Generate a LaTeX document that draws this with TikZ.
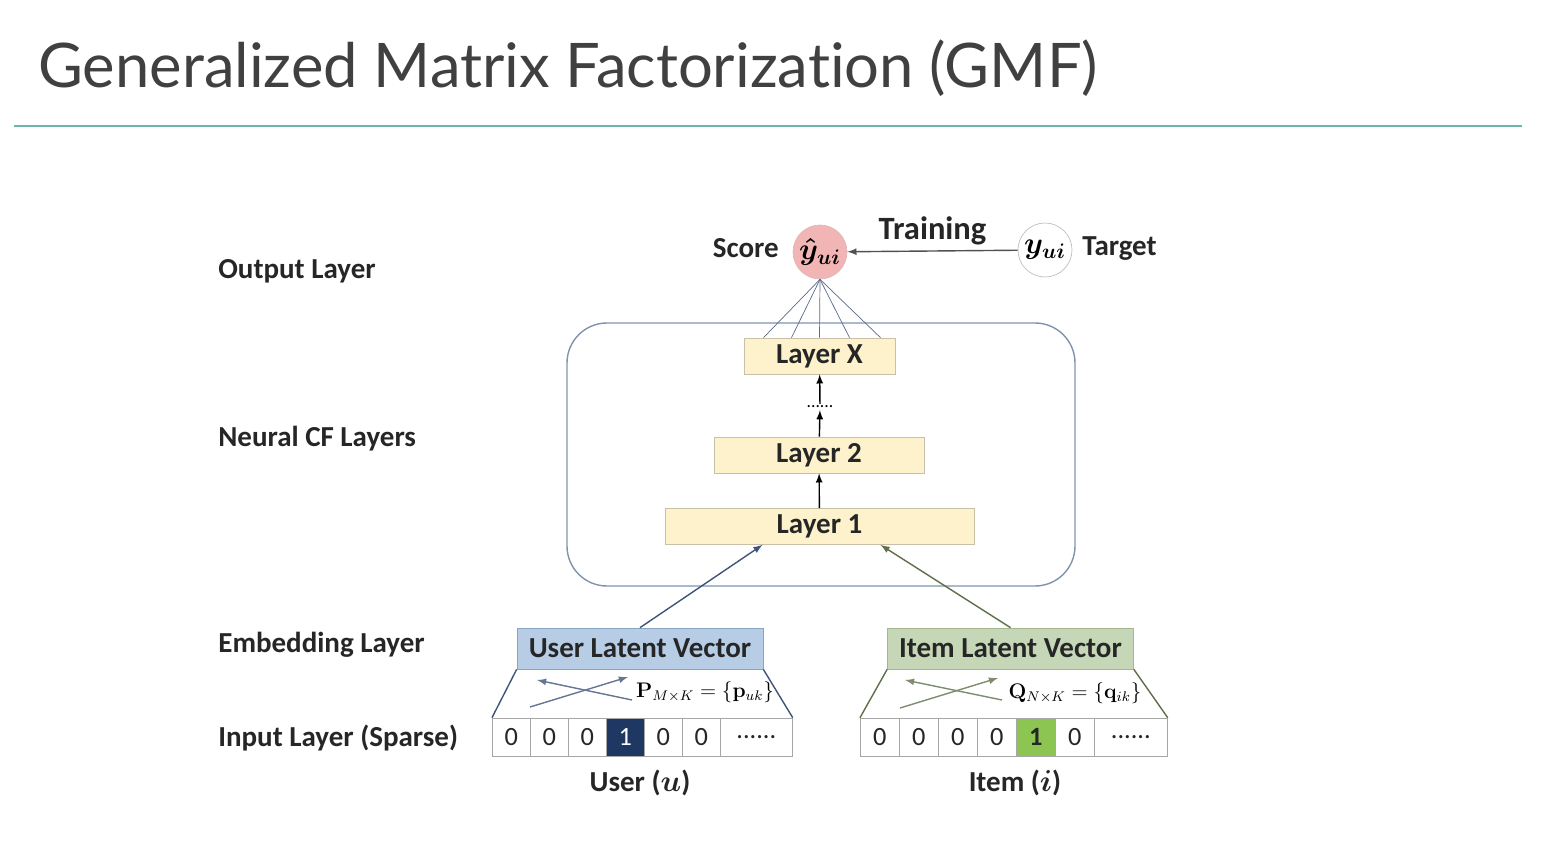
\documentclass[tikz,border=0pt]{standalone}
\usepackage{amsmath,bm}
\usepackage[no-math]{fontspec}
\setmainfont{Carlito}
\newfontfamily\titlefont[Ligatures=NoCommon]{Lato}
\usetikzlibrary{arrows}

\definecolor{txtcol}{HTML}{262626}
\definecolor{titlecol}{HTML}{404040}
\definecolor{rulecol}{HTML}{6AB5AC}
\definecolor{scorefill}{HTML}{F2B5B5}
\definecolor{layerfill}{HTML}{FDF2CC}
\definecolor{layerdraw}{HTML}{C8C0A8}
\definecolor{boxcol}{HTML}{7F93AD}
\definecolor{fancol}{HTML}{5A6A8A}
\definecolor{usercol}{HTML}{3F5478}
\definecolor{userfill}{HTML}{B7CDE6}
\definecolor{userdraw}{HTML}{8AA4C4}
\definecolor{itemcol}{HTML}{5D7048}
\definecolor{itemfill}{HTML}{C5D7B6}
\definecolor{itemdraw}{HTML}{A2B890}
\definecolor{onecol}{HTML}{1F3763}
\definecolor{greencol}{HTML}{8DC553}

\begin{document}
\begin{tikzpicture}[x=0.02cm,y=-0.02cm,
    lbl/.style={font=\fontsize{16.5}{19}\selectfont\bfseries,text=txtcol,inner sep=0pt},
    layerbox/.style={draw=layerdraw,fill=layerfill,minimum height=0.72cm,inner sep=0pt,
      font=\fontsize{16.5}{19}\selectfont\bfseries,text=txtcol},
    latent/.style={minimum width=4.92cm,minimum height=0.82cm,inner sep=0pt,
      font=\fontsize{16.5}{19}\selectfont\bfseries,text=txtcol},
    cell/.style={draw=gray!70,minimum height=0.76cm,inner sep=0pt,anchor=west,
      font=\fontsize{15}{18}\selectfont,text=txtcol},
    ball/.style={circle,minimum size=1.08cm,inner sep=0pt,font=\LARGE}]
  \useasboundingbox (0,0) rectangle (1542,868);

  % title
  \node[anchor=base west,inner sep=0pt,text=titlecol,font=\titlefont\fontsize{35}{40}\selectfont]
    (title) at (38,88) {Generalized Matrix Factorization (GMF)};
  \draw[rulecol,line width=1.2pt] (14,126) -- (1522,126);

  % layer names
  \node[lbl,anchor=west] (outl) at (218,271) {Output Layer};
  \node[lbl,anchor=west] (ncfl) at (218,439) {Neural CF Layers};
  \node[lbl,anchor=west] (embl) at (218,645) {Embedding Layer};
  \node[lbl,anchor=west] (inpl) at (218,738) {Input Layer (Sparse)};

  % output
  \node[ball,draw=gray!60!red!40,fill=scorefill] (score) at (820,252) {$\bm{\hat{y}}_{\bm{ui}}$};
  \node[ball,draw=gray!50,fill=white] (target) at (1045,250) {$\bm{y}_{\bm{ui}}$};
  \node[lbl,anchor=east] (scorel) at (779,248) {Score};
  \node[lbl,anchor=west] (targetl) at (1082,249) {Target};
  \draw[-latex,thick,txtcol!80] (target) -- node[above=3pt,lbl,font=\fontsize{18.5}{22}\selectfont\bfseries]{Training} (score);

  % neural CF layers
  \draw[boxcol,thick,rounded corners=0.8cm] (567,323) rectangle (1075,586);
  \node[layerbox,minimum width=3.02cm] (layerx) at (819.5,356) {Layer X};
  \node[layerbox,minimum width=4.2cm] (layer2) at (819,455) {Layer 2};
  \node[layerbox,minimum width=6.18cm] (layer1) at (819.5,526.5) {Layer 1};
  \node[inner sep=1pt,font=\fontsize{10}{10}\selectfont] (vdots) at (820,407) {......};
  \draw[-latex,thick] (layer1) -- (layer2);
  \draw[-latex,thick] (layer2) -- (vdots);
  \draw[-latex,thick] (vdots) -- (layerx);
  \foreach \dx in {-56,-28,0,30,61}
    \draw[fancol] (score.south) -- ([xshift=\dx*0.02cm]layerx.north);

  % embedding
  \node[latent,draw=userdraw,fill=userfill] (ulv) at (640,648.5) {User Latent Vector};
  \node[latent,draw=itemdraw,fill=itemfill] (ilv) at (1010.5,648.5) {Item Latent Vector};
  \draw[-latex,thick,usercol] (ulv.north) -- ([xshift=-1.14cm]layer1.south);
  \draw[-latex,thick,itemcol] (ilv.north) -- ([xshift=1.22cm]layer1.south);

  % user input
  \foreach \i/\v in {0/0,1/0,2/0,4/0,5/0}
    \node[cell,minimum width=0.76cm] (u\i) at (492+38*\i,737) {\v};
  \node[cell,minimum width=0.76cm,fill=onecol,text=white] (u3) at (606,737) {1};
  \node[cell,minimum width=1.44cm] (u6) at (720,737) {......};
  \draw[usercol,thick] (ulv.south west) -- (u0.north west);
  \draw[usercol,thick] (ulv.south east) -- (u6.north east);
  \draw[-latex,thick,usercol!80] (530,707) -- (628,677);
  \draw[-latex,thick,usercol!80] (632,700) -- (537,680);
  \node[inner sep=0pt] (pmat) at (705,692) {\large$\mathbf{P}_{M\times K}=\{\mathbf{p}_{uk}\}$};
  \node[lbl] (userl) at (640,783) {User ($\bm{u}$)};

  % item input
  \foreach \i/\v in {0/0,1/0,2/0,3/0,5/0}
    \node[cell,minimum width=0.78cm] (i\i) at (860+39*\i,737) {\v};
  \node[cell,minimum width=0.78cm,fill=greencol] (i4) at (1016,737) {\bfseries 1};
  \node[cell,minimum width=1.46cm] (i6) at (1094,737) {......};
  \draw[itemcol,thick] (ilv.south west) -- (i0.north west);
  \draw[itemcol,thick] (ilv.south east) -- (i6.north east);
  \draw[-latex,thick,itemcol!80] (900,708) -- (998,678);
  \draw[-latex,thick,itemcol!80] (1002,700) -- (905,680);
  \node[inner sep=0pt] (qmat) at (1075,693) {\large$\mathbf{Q}_{N\times K}=\{\mathbf{q}_{ik}\}$};
  \node[lbl] (iteml) at (1015,783) {Item ($\bm{i}$)};
\end{tikzpicture}
\end{document}
